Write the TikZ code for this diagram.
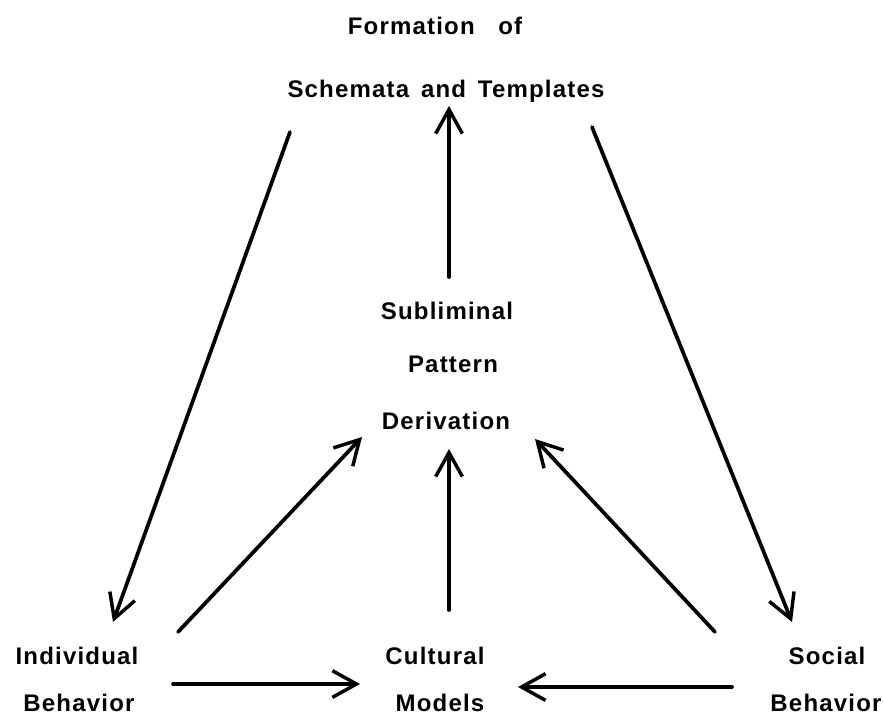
\documentclass[tikz,border=0pt]{standalone}
\usepackage{fontspec}
\setmainfont[LetterSpace=5,WordSpace=1.5]{Liberation Sans}
\usepackage{tikz}
\usetikzlibrary{arrows.meta}

\begin{document}
\begin{tikzpicture}[x=0.75pt,y=-0.75pt]
  \tikzstyle{LabelStyle}=[inner sep=0pt,text height=13pt,text depth=4pt,%
                          font=\fontsize{18}{20}\selectfont\bfseries]
  \tikzstyle{EdgeStyle}=[line width=2.8pt,line cap=round,%
                         -{Straight Barb[length=18pt,width=20pt,line width=2.6pt]}]
  \useasboundingbox (0,0) rectangle (884,719);
  \node[LabelStyle] (form) at (435,28) {Formation\ \ of};
  \node[LabelStyle] (sch)  at (446,91) {Schemata and Templates};
  \node[LabelStyle] (sub)  at (447,313) {Subliminal};
  \node[LabelStyle] (pat)  at (453,366) {Pattern};
  \node[LabelStyle] (der)  at (446,423) {Derivation};
  \node[LabelStyle] (indA) at (77,658) {Individual};
  \node[LabelStyle] (indB) at (79,705) {Behavior};
  \node[LabelStyle] (culA) at (435,658) {Cultural};
  \node[LabelStyle] (culB) at (440,705) {Models};
  \node[LabelStyle] (socA) at (827,658) {Social};
  \node[LabelStyle] (socB) at (826,705) {Behavior};
  % upward to the schemata
  \draw[EdgeStyle] ([shift={(2,-36)}]sub.center) -- ([shift={(3,15)}]sch.center);
  \draw[EdgeStyle] ([shift={(-156,41)}]sch.center) -- ([shift={(36,-36)}]indA.center);
  \draw[EdgeStyle] ([shift={(146,36)}]sch.center) -- ([shift={(-35,-36)}]socA.center);
  % into the derivation
  \draw[EdgeStyle] ([shift={(101,-26)}]indA.center) -- ([shift={(-84,14)}]der.center);
  \draw[EdgeStyle] ([shift={(14,-48)}]culA.center) -- ([shift={(3,26)}]der.center);
  \draw[EdgeStyle] ([shift={(-112,-26)}]socA.center) -- ([shift={(89,16)}]der.center);
  % into the models
  \draw[EdgeStyle] ([shift={(94,-21)}]indB.center) -- ([shift={(-80,-21)}]culB.center);
  \draw[EdgeStyle] ([shift={(-94,-18)}]socB.center) -- ([shift={(78,-18)}]culB.center);
\end{tikzpicture}
\end{document}
